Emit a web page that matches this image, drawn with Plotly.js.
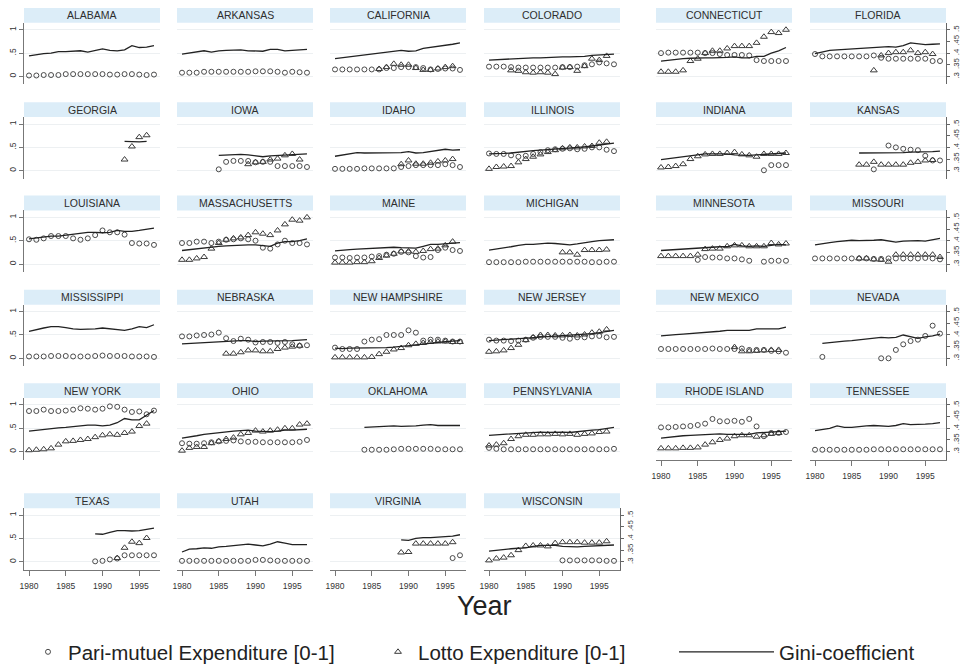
<!DOCTYPE html>
<html><head><meta charset="utf-8">
<script src="https://cdn.plot.ly/plotly-3.0.1.min.js"></script>
<style>html,body{margin:0;padding:0;background:#fff}#chart{width:961px;height:672px}</style>
</head><body><div id="chart"></div>
<script>
const _ = null;
const years = [1980,1981,1982,1983,1984,1985,1986,1987,1988,1989,1990,1991,1992,1993,1994,1995,1996,1997];
const states = ["ALABAMA","ARKANSAS","CALIFORNIA","COLORADO","CONNECTICUT","FLORIDA",
  "GEORGIA","IOWA","IDAHO","ILLINOIS","INDIANA","KANSAS",
  "LOUISIANA","MASSACHUSETTS","MAINE","MICHIGAN","MINNESOTA","MISSOURI",
  "MISSISSIPPI","NEBRASKA","NEW HAMPSHIRE","NEW JERSEY","NEW MEXICO","NEVADA",
  "NEW YORK","OHIO","OKLAHOMA","PENNSYLVANIA","RHODE ISLAND","TENNESSEE",
  "TEXAS","UTAH","VIRGINIA","WISCONSIN"];
const xTicks = [1980,1985,1990,1995];
const leftTicks = [0,0.5,1], leftTickText = ["0",".5","1"];
const giniTicks = [0.3,0.35,0.4,0.45,0.5], giniTickText = [".3",".35",".4",".45",".5"];
const legendNames = ["Pari-mutuel Expenditure [0-1]","Lotto Expenditure [0-1]","Gini-coefficient"];

// Gini (right axis), Pari-mutuel and Lotto expenditure (left axis, 0-1), 1980-1997
const AL_gini=[0.388,0.394,0.398,0.400,0.406,0.406,0.408,0.410,0.404,0.410,0.418,0.412,0.410,0.414,0.432,0.424,0.426,0.432];
const AL_pari=[0.02,0.02,0.03,0.03,0.03,0.05,0.05,0.05,0.05,0.05,0.05,0.04,0.04,0.05,0.05,0.04,0.03,0.04];
const AL_lotto=[_,_,_,_,_,_,_,_,_,_,_,_,_,_,_,_,_,_];
const AR_gini=[0.396,0.400,0.404,0.410,0.404,0.410,0.412,0.414,0.414,0.410,0.410,0.408,0.416,0.416,0.410,0.412,0.416,0.416];
const AR_pari=[0.08,0.08,0.08,0.10,0.10,0.10,0.10,0.10,0.10,0.10,0.11,0.11,0.11,0.10,0.08,0.10,0.09,0.08];
const AR_lotto=[_,_,_,_,_,_,_,_,_,_,_,_,_,_,_,_,_,_];
const CA_gini=[0.376,0.380,0.384,0.388,0.392,0.396,0.400,0.406,0.410,0.412,0.408,0.410,0.420,0.424,0.428,0.432,0.438,0.444];
const CA_pari=[0.15,0.15,0.15,0.15,0.15,0.15,0.15,0.18,0.18,0.20,0.20,0.20,0.18,0.15,0.16,0.17,0.17,0.14];
const CA_lotto=[_,_,_,_,_,_,0.16,0.20,0.27,0.25,0.25,0.18,0.14,0.14,0.17,0.20,0.22,_];
const CO_gini=[0.370,0.372,0.374,0.376,0.376,0.378,0.380,0.380,0.382,0.382,0.384,0.384,0.384,0.386,0.390,0.392,0.392,0.396];
const CO_pari=[0.21,0.21,0.21,0.20,0.19,0.19,0.19,0.19,0.19,0.19,0.20,0.20,0.21,0.24,0.26,0.30,0.28,0.26];
const CO_lotto=[_,_,_,0.13,0.12,0.09,0.08,0.09,0.08,0.05,0.19,0.20,0.12,0.22,0.38,0.35,0.44,_];
const CT_gini=[0.366,0.370,0.374,0.376,0.378,0.380,0.380,0.380,0.380,0.382,0.384,0.380,0.380,0.386,0.386,0.400,0.410,0.424];
const CT_pari=[0.50,0.51,0.51,0.51,0.51,0.51,0.50,0.50,0.48,0.46,0.46,0.46,0.45,0.35,0.33,0.33,0.33,0.33];
const CT_lotto=[0.10,0.10,0.10,0.13,0.33,0.38,0.50,0.55,0.55,0.60,0.65,0.65,0.65,0.72,0.85,0.95,0.93,1.00];
const FL_gini=[0.398,0.406,0.412,0.414,0.416,0.418,0.420,0.424,0.424,0.428,0.428,0.426,0.432,0.444,0.440,0.436,0.438,0.440];
const FL_pari=[0.48,0.43,0.43,0.43,0.43,0.43,0.43,0.43,0.45,0.40,0.38,0.38,0.38,0.38,0.38,0.38,0.33,0.33];
const FL_lotto=[_,_,_,_,_,_,_,_,0.13,0.45,0.50,0.52,0.52,0.56,0.50,0.52,0.48,_];
const GA_gini=[_,_,_,_,_,_,_,_,_,_,_,_,_,0.426,0.424,0.424,0.426,_];
const GA_pari=[_,_,_,_,_,_,_,_,_,_,_,_,_,_,_,_,_,_];
const GA_lotto=[_,_,_,_,_,_,_,_,_,_,_,_,_,0.24,0.52,0.72,0.76,_];
const IA_gini=[_,_,_,_,_,0.366,0.368,0.370,0.370,0.368,0.364,0.360,0.364,0.366,0.368,0.368,0.370,0.372];
const IA_pari=[_,_,_,_,_,0.03,0.19,0.21,0.21,0.21,0.18,0.19,0.19,0.10,0.10,0.10,0.10,0.08];
const IA_lotto=[_,_,_,_,_,_,_,_,_,0.14,0.18,0.19,0.24,0.26,0.33,0.36,0.24,_];
const ID_gini=[0.362,0.368,0.374,0.378,0.376,0.376,0.376,0.376,0.376,0.378,0.382,0.376,0.378,0.382,0.386,0.392,0.388,0.390];
const ID_pari=[0.04,0.04,0.04,0.04,0.05,0.05,0.05,0.05,0.05,0.08,0.10,0.12,0.12,0.12,0.12,0.14,0.12,0.08];
const ID_lotto=[_,_,_,_,_,_,_,_,_,0.14,0.22,0.15,0.15,0.17,0.20,0.22,0.25,_];
const IL_gini=[0.372,0.372,0.374,0.376,0.380,0.384,0.386,0.388,0.390,0.392,0.396,0.398,0.400,0.402,0.406,0.410,0.414,0.418];
const IL_pari=[0.37,0.36,0.36,0.33,0.30,0.32,0.36,0.40,0.44,0.46,0.47,0.48,0.46,0.47,0.50,0.50,0.45,0.42];
const IL_lotto=[0.04,0.08,0.09,0.10,0.18,0.25,0.30,0.35,0.40,0.44,0.48,0.50,0.50,0.52,0.53,0.60,0.62,_];
const IN_gini=[0.348,0.352,0.356,0.360,0.364,0.370,0.372,0.372,0.372,0.372,0.368,0.366,0.366,0.368,0.370,0.372,0.374,0.376];
const IN_pari=[_,_,_,_,_,_,_,_,_,_,_,_,_,_,0.01,0.12,0.12,0.12];
const IN_lotto=[0.07,0.08,0.10,0.14,0.25,0.31,0.35,0.36,0.36,0.38,0.40,0.35,0.33,0.30,0.36,0.36,0.36,0.38];
const KS_gini=[_,_,_,_,_,_,0.376,0.376,0.376,0.376,0.376,0.378,0.378,0.380,0.380,0.380,0.382,0.384];
const KS_pari=[_,_,_,_,_,_,_,_,0.03,_,0.54,0.50,0.47,0.45,0.44,0.32,0.22,0.22];
const KS_lotto=[_,_,_,_,_,_,0.13,0.13,0.19,0.13,0.13,0.13,0.13,0.17,0.19,0.22,0.23,_];
const LA_gini=[0.408,0.412,0.416,0.420,0.420,0.424,0.426,0.430,0.436,0.436,0.434,0.436,0.444,0.440,0.440,0.444,0.450,0.454];
const LA_pari=[0.53,0.52,0.55,0.60,0.60,0.60,0.55,0.52,0.55,0.62,0.72,0.68,0.68,0.63,0.45,0.44,0.44,0.41];
const LA_lotto=[_,_,_,_,_,_,_,_,_,_,_,_,_,_,_,_,_,_];
const MA_gini=[0.358,0.362,0.366,0.370,0.374,0.376,0.378,0.380,0.380,0.382,0.382,0.378,0.376,0.390,0.396,0.396,0.400,0.408];
const MA_pari=[0.45,0.45,0.48,0.48,0.45,0.48,0.52,0.53,0.55,0.53,0.50,0.35,0.33,0.42,0.50,0.45,0.45,0.42];
const MA_lotto=[0.09,0.09,0.12,0.15,0.33,0.45,0.52,0.55,0.57,0.62,0.68,0.65,0.62,0.72,0.85,0.95,0.93,1.00];
const ME_gini=[0.356,0.360,0.362,0.364,0.366,0.368,0.370,0.370,0.372,0.370,0.370,0.368,0.376,0.384,0.384,0.386,0.390,0.392];
const ME_pari=[0.14,0.14,0.13,0.14,0.14,0.16,0.17,0.20,0.22,0.26,0.25,0.17,0.14,0.15,0.30,0.35,0.30,0.28];
const ME_lotto=[0.03,0.03,0.03,0.04,0.04,0.06,0.13,0.18,0.22,0.27,0.27,0.26,0.28,0.32,0.33,0.40,0.48,_];
const MI_gini=[0.360,0.364,0.370,0.374,0.380,0.384,0.384,0.388,0.390,0.388,0.384,0.382,0.386,0.392,0.396,0.400,0.402,0.404];
const MI_pari=[0.04,0.04,0.04,0.04,0.04,0.05,0.05,0.05,0.05,0.05,0.05,0.05,0.05,0.05,0.04,0.04,0.05,0.05];
const MI_lotto=[_,_,_,_,_,_,_,_,_,_,0.25,0.25,0.20,0.30,0.30,0.30,0.31,_];
const MN_gini=[0.358,0.360,0.362,0.364,0.366,0.368,0.372,0.372,0.374,0.374,0.384,0.378,0.376,0.378,0.376,0.380,0.384,0.382];
const MN_pari=[_,_,_,_,_,0.09,0.15,0.14,0.14,0.12,0.12,0.10,0.07,_,0.05,0.07,0.07,0.07];
const MN_lotto=[0.17,0.17,0.17,0.17,0.17,0.20,0.32,0.33,0.33,0.38,0.40,0.40,0.38,0.38,0.38,0.45,0.42,0.44];
const MO_gini=[0.382,0.388,0.392,0.396,0.400,0.402,0.400,0.400,0.402,0.404,0.400,0.394,0.398,0.400,0.400,0.398,0.404,0.410];
const MO_pari=[0.12,0.12,0.12,0.12,0.12,0.12,0.12,0.12,0.11,0.11,0.12,0.12,0.12,0.12,0.12,0.13,0.12,0.10];
const MO_lotto=[_,_,_,_,_,_,0.12,0.12,0.10,0.09,0.05,0.20,0.20,0.20,0.20,0.20,0.20,0.15];
const MS_gini=[0.416,0.424,0.430,0.436,0.436,0.432,0.426,0.424,0.424,0.426,0.430,0.426,0.422,0.420,0.426,0.436,0.432,0.444];
const MS_pari=[0.04,0.04,0.04,0.05,0.05,0.05,0.04,0.04,0.04,0.05,0.06,0.05,0.05,0.05,0.04,0.04,0.04,0.03];
const MS_lotto=[_,_,_,_,_,_,_,_,_,_,_,_,_,_,_,_,_,_];
const NE_gini=[0.362,0.364,0.366,0.368,0.370,0.372,0.374,0.376,0.376,0.376,0.372,0.374,0.374,0.376,0.374,0.376,0.378,0.380];
const NE_pari=[0.47,0.47,0.49,0.50,0.51,0.55,0.43,0.37,0.42,0.40,0.34,0.35,0.35,0.33,0.35,0.30,0.27,0.28];
const NE_lotto=[_,_,_,_,_,_,0.10,0.10,0.13,0.17,0.17,0.15,0.15,0.20,0.23,0.25,0.27,_];
const NH_gini=[0.344,0.342,0.344,0.344,0.344,0.344,0.346,0.346,0.348,0.350,0.354,0.358,0.362,0.366,0.370,0.372,0.374,0.376];
const NH_pari=[0.23,0.20,0.20,0.20,0.36,0.40,0.41,0.50,0.50,0.50,0.60,0.55,0.38,0.40,0.40,0.38,0.36,0.36];
const NH_lotto=[0.02,0.02,0.02,0.02,0.02,0.03,0.09,0.14,0.19,0.22,0.28,0.31,0.33,0.35,0.36,0.36,0.35,0.35];
const NJ_gini=[0.376,0.378,0.380,0.382,0.384,0.386,0.388,0.392,0.394,0.396,0.398,0.398,0.400,0.402,0.406,0.410,0.414,0.420];
const NJ_pari=[0.40,0.38,0.38,0.37,0.38,0.40,0.44,0.46,0.46,0.46,0.44,0.42,0.45,0.45,0.47,0.48,0.45,0.46];
const NJ_lotto=[0.14,0.15,0.17,0.22,0.29,0.39,0.45,0.50,0.50,0.49,0.49,0.50,0.49,0.51,0.55,0.57,0.62,_];
const NM_gini=[0.396,0.400,0.402,0.404,0.406,0.408,0.410,0.412,0.416,0.420,0.420,0.418,0.420,0.426,0.426,0.424,0.426,0.434];
const NM_pari=[0.20,0.20,0.20,0.20,0.20,0.20,0.20,0.21,0.20,0.20,0.20,0.21,0.18,0.18,0.18,0.16,0.15,0.12];
const NM_lotto=[_,_,_,_,_,_,_,_,_,_,0.24,0.15,0.15,0.16,0.17,0.18,0.18,_];
const NV_gini=[_,0.364,0.368,0.370,0.374,0.376,0.380,0.382,0.386,0.390,0.388,0.390,0.400,0.394,0.386,0.392,0.396,0.404];
const NV_pari=[_,0.03,_,_,_,_,_,_,_,0.00,0.00,0.18,0.30,0.37,0.40,0.48,0.70,0.53];
const NV_lotto=[_,_,_,_,_,_,_,_,_,_,_,_,_,_,_,_,_,_];
const NY_gini=[0.388,0.392,0.396,0.400,0.402,0.404,0.408,0.412,0.414,0.414,0.410,0.414,0.424,0.442,0.436,0.436,0.456,0.476];
const NY_pari=[0.87,0.87,0.90,0.87,0.87,0.88,0.90,0.93,0.92,0.90,0.92,0.97,0.96,0.90,0.85,0.86,0.80,0.88];
const NY_lotto=[0.03,0.04,0.05,0.07,0.15,0.22,0.23,0.25,0.27,0.31,0.35,0.37,0.36,0.40,0.43,0.55,0.60,_];
const OH_gini=[0.358,0.362,0.368,0.374,0.378,0.382,0.386,0.388,0.390,0.392,0.388,0.386,0.386,0.388,0.392,0.392,0.394,0.396];
const OH_pari=[0.18,0.17,0.17,0.18,0.20,0.22,0.23,0.24,0.22,0.21,0.21,0.20,0.20,0.20,0.20,0.20,0.21,0.25];
const OH_lotto=[0.02,0.08,0.10,0.10,0.18,0.22,0.27,0.30,0.37,0.40,0.45,0.43,0.45,0.47,0.50,0.50,0.58,0.60];
const OK_gini=[_,_,_,_,0.404,0.406,0.408,0.410,0.410,0.408,0.408,0.410,0.414,0.416,0.412,0.412,0.412,0.412];
const OK_pari=[_,_,_,_,0.04,0.04,0.04,0.04,0.05,0.06,0.06,0.06,0.06,0.06,0.05,0.05,0.05,0.05];
const OK_lotto=[_,_,_,_,_,_,_,_,_,_,_,_,_,_,_,_,_,_];
const PA_gini=[0.370,0.372,0.374,0.376,0.378,0.380,0.382,0.384,0.382,0.384,0.384,0.382,0.386,0.390,0.392,0.394,0.398,0.404];
const PA_pari=[0.08,0.06,0.05,0.05,0.05,0.05,0.05,0.05,0.05,0.05,0.05,0.05,0.05,0.05,0.05,0.05,0.05,0.06];
const PA_lotto=[0.13,0.15,0.18,0.27,0.33,0.36,0.36,0.37,0.37,0.38,0.37,0.38,0.36,0.38,0.39,0.42,0.43,_];
const RI_gini=[0.358,0.362,0.366,0.368,0.370,0.372,0.374,0.374,0.376,0.374,0.374,0.374,0.374,0.380,0.382,0.386,0.386,0.388];
const RI_pari=[0.52,0.52,0.53,0.54,0.55,0.57,0.60,0.70,0.65,0.65,0.66,0.64,0.70,0.54,0.33,0.40,0.40,0.42];
const RI_lotto=[0.07,0.07,0.07,0.08,0.08,0.09,0.15,0.20,0.25,0.28,0.33,0.35,0.35,0.32,0.35,0.38,0.40,_];
const TN_gini=[0.390,0.394,0.400,0.410,0.404,0.404,0.408,0.410,0.412,0.410,0.408,0.412,0.420,0.416,0.416,0.418,0.420,0.424];
const TN_pari=[0.04,0.04,0.04,0.04,0.04,0.04,0.04,0.04,0.05,0.05,0.05,0.05,0.05,0.05,0.05,0.05,0.05,0.05];
const TN_lotto=[_,_,_,_,_,_,_,_,_,_,_,_,_,_,_,_,_,_];
const TX_gini=[_,_,_,_,_,_,_,_,_,0.420,0.418,0.426,0.434,0.434,0.432,0.434,0.438,0.444];
const TX_pari=[_,_,_,_,_,_,_,_,_,0.01,0.02,0.05,0.07,0.14,0.14,0.14,0.14,0.14];
const TX_lotto=[_,_,_,_,_,_,_,_,_,_,_,_,0.08,0.30,0.43,0.40,0.51,_];
const UT_gini=[0.342,0.354,0.356,0.360,0.358,0.364,0.366,0.370,0.372,0.376,0.372,0.368,0.376,0.386,0.380,0.374,0.374,0.374];
const UT_pari=[0.02,0.02,0.02,0.02,0.02,0.02,0.02,0.02,0.02,0.02,0.04,0.04,0.03,0.02,0.02,0.02,0.02,0.02];
const UT_lotto=[_,_,_,_,_,_,_,_,_,_,_,_,_,_,_,_,_,_];
const VA_gini=[_,_,_,_,_,_,_,_,_,0.394,0.392,0.400,0.404,0.404,0.406,0.408,0.410,0.416];
const VA_pari=[_,_,_,_,_,_,_,_,_,_,_,_,_,_,_,_,0.08,0.14];
const VA_lotto=[_,_,_,_,_,_,_,_,_,0.20,0.21,0.39,0.39,0.39,0.39,0.39,0.42,_];
const WI_gini=[0.346,0.350,0.354,0.356,0.358,0.360,0.366,0.370,0.370,0.370,0.366,0.364,0.364,0.366,0.368,0.368,0.370,0.372];
const WI_pari=[_,_,_,_,_,_,_,_,_,_,0.03,0.03,0.03,0.03,0.03,0.03,0.02,0.02];
const WI_lotto=[0.03,0.07,0.09,0.14,0.25,0.34,0.35,0.35,0.33,0.40,0.42,0.42,0.42,0.41,0.41,0.41,0.44,_];

const panelData = [
  [AL_gini,AL_pari,AL_lotto],[AR_gini,AR_pari,AR_lotto],[CA_gini,CA_pari,CA_lotto],[CO_gini,CO_pari,CO_lotto],[CT_gini,CT_pari,CT_lotto],[FL_gini,FL_pari,FL_lotto],
  [GA_gini,GA_pari,GA_lotto],[IA_gini,IA_pari,IA_lotto],[ID_gini,ID_pari,ID_lotto],[IL_gini,IL_pari,IL_lotto],[IN_gini,IN_pari,IN_lotto],[KS_gini,KS_pari,KS_lotto],
  [LA_gini,LA_pari,LA_lotto],[MA_gini,MA_pari,MA_lotto],[ME_gini,ME_pari,ME_lotto],[MI_gini,MI_pari,MI_lotto],[MN_gini,MN_pari,MN_lotto],[MO_gini,MO_pari,MO_lotto],
  [MS_gini,MS_pari,MS_lotto],[NE_gini,NE_pari,NE_lotto],[NH_gini,NH_pari,NH_lotto],[NJ_gini,NJ_pari,NJ_lotto],[NM_gini,NM_pari,NM_lotto],[NV_gini,NV_pari,NV_lotto],
  [NY_gini,NY_pari,NY_lotto],[OH_gini,OH_pari,OH_lotto],[OK_gini,OK_pari,OK_lotto],[PA_gini,PA_pari,PA_lotto],[RI_gini,RI_pari,RI_lotto],[TN_gini,TN_pari,TN_lotto],
  [TX_gini,TX_pari,TX_lotto],[UT_gini,UT_pari,UT_lotto],[VA_gini,VA_pari,VA_lotto],[WI_gini,WI_pari,WI_lotto]
];

// ---- layout geometry (pixels) ----
const W = 961, H = 672;
const colX = [24,177,330,484,656,810], colW = 136;
const rowTop = [8,103,197,292,386,497];
const FONT = "Liberation Sans, Arial, Helvetica, sans-serif";
const N = states.length;
const fx = p => p / W, fy = p => 1 - p / H;
const bottomPanels = new Set([28,29,30,31,32,33]);
const lastInRow = new Set([5,11,17,23,29,33]);

const traces = [];
const legendBase = {xanchor:"left", yanchor:"middle", orientation:"h", bgcolor:"rgba(0,0,0,0)", font:{size:20.5,color:"#222",family:FONT}};
const layout = {
  width: W, height: H, margin: {l:0,r:0,t:0,b:0},
  paper_bgcolor: "#fff", plot_bgcolor: "rgba(0,0,0,0)",
  font: {family: FONT, color: "#222"},
  shapes: [], annotations: [],
  legend:  Object.assign({x: fx(28),  y: fy(657), itemwidth:30}, legendBase),
  legend2: Object.assign({x: fx(378), y: fy(657), itemwidth:30}, legendBase),
  legend3: Object.assign({x: fx(674), y: fy(657), itemwidth:95}, legendBase)
};
let shownPari = false, shownLotto = false, shownGini = false;

for (let i = 0; i < N; i++) {
  const row = Math.floor(i / 6), col = i % 6;
  const x0 = colX[col], h = rowTop[row];
  const n = i + 1, g = i + 1 + N;
  const isFirst = col === 0, isBottom = bottomPanels.has(i), isLast = lastInRow.has(i);
  const [gini, pari, lotto] = panelData[i];

  layout["xaxis" + n] = {
    domain: [fx(x0), fx(x0 + colW)], anchor: "y" + n, range: [1979.32, 1997.82],
    tickvals: xTicks, showgrid: false, zeroline: false,
    showline: isBottom, linecolor: "#777", linewidth: 1,
    ticks: isBottom ? "outside" : "", ticklen: 5, tickcolor: "#777", ticklabelstandoff: 3,
    showticklabels: isBottom, tickfont: {size: 8.5, color: "#333", family: FONT}, fixedrange: true
  };
  layout["yaxis" + n] = {
    domain: [fy(h + 77), fy(h + 15)], anchor: "x" + n, range: [-0.17, 1.149],
    tickvals: leftTicks, ticktext: leftTickText, showgrid: true, gridcolor: "#edf0f2", gridwidth: 1,
    zeroline: false, showline: isFirst, linecolor: "#777", linewidth: 1,
    ticks: isFirst ? "outside" : "", ticklen: 4, tickcolor: "#777",
    showticklabels: isFirst, tickangle: -90, tickfont: {size: 8.5, color: "#333", family: FONT}, fixedrange: true
  };
  layout["yaxis" + g] = {
    overlaying: "y" + n, side: "right", anchor: "x" + n, range: [0.266, 0.5298],
    tickvals: giniTicks, ticktext: giniTickText, showgrid: false, zeroline: false,
    showline: isLast, linecolor: "#666", linewidth: 1,
    ticks: isLast ? "outside" : "", ticklen: 3, tickcolor: "#666",
    showticklabels: isLast, tickangle: -90, tickfont: {size: 7.8, color: "#333", family: FONT}, fixedrange: true
  };

  // header strip
  layout.shapes.push({type:"rect", xref:"paper", yref:"paper", x0: fx(x0), x1: fx(x0 + colW), y0: fy(h + 15), y1: fy(h),
    fillcolor: "#dcedf8", line: {width: 0}, layer: "below"});
  layout.annotations.push({text: states[i], xref:"paper", yref:"paper", x: fx(x0 + colW/2), y: fy(h + 7.5),
    xanchor:"center", yanchor:"middle", showarrow:false, font:{size:10.5, color:"#2e2e2e", family: FONT}});

  const hasPari = pari.some(v => v !== null), hasLotto = lotto.some(v => v !== null);
  traces.push({type:"scatter", mode:"markers", x: years, y: pari, xaxis:"x"+n, yaxis:"y"+n,
    name: legendNames[0], legend:"legend", showlegend: hasPari && !shownPari,
    marker:{symbol:"circle-open", size:5, color:"#4a4a4a", line:{width:1, color:"#4a4a4a"}}, hoverinfo:"skip"});
  if (hasPari) shownPari = true;
  traces.push({type:"scatter", mode:"markers", x: years, y: lotto, xaxis:"x"+n, yaxis:"y"+n,
    name: legendNames[1], legend:"legend2", showlegend: hasLotto && !shownLotto,
    marker:{symbol:"triangle-up-open", size:6, color:"#3a3a3a", line:{width:1, color:"#3a3a3a"}}, hoverinfo:"skip"});
  if (hasLotto) shownLotto = true;
  traces.push({type:"scatter", mode:"lines", x: years, y: gini, xaxis:"x"+n, yaxis:"y"+g,
    name: legendNames[2], legend:"legend3", showlegend: !shownGini, connectgaps:false,
    line:{color:"#222", width:1.3}, hoverinfo:"skip"});
  shownGini = true;
}

layout.annotations.push({text:"Year", xref:"paper", yref:"paper", x: fx(484), y: fy(611),
  xanchor:"center", yanchor:"middle", showarrow:false, font:{size:27, color:"#222", family: FONT}});

Plotly.newPlot("chart", traces, layout, {staticPlot:true, displayModeBar:false});
</script></body></html>
